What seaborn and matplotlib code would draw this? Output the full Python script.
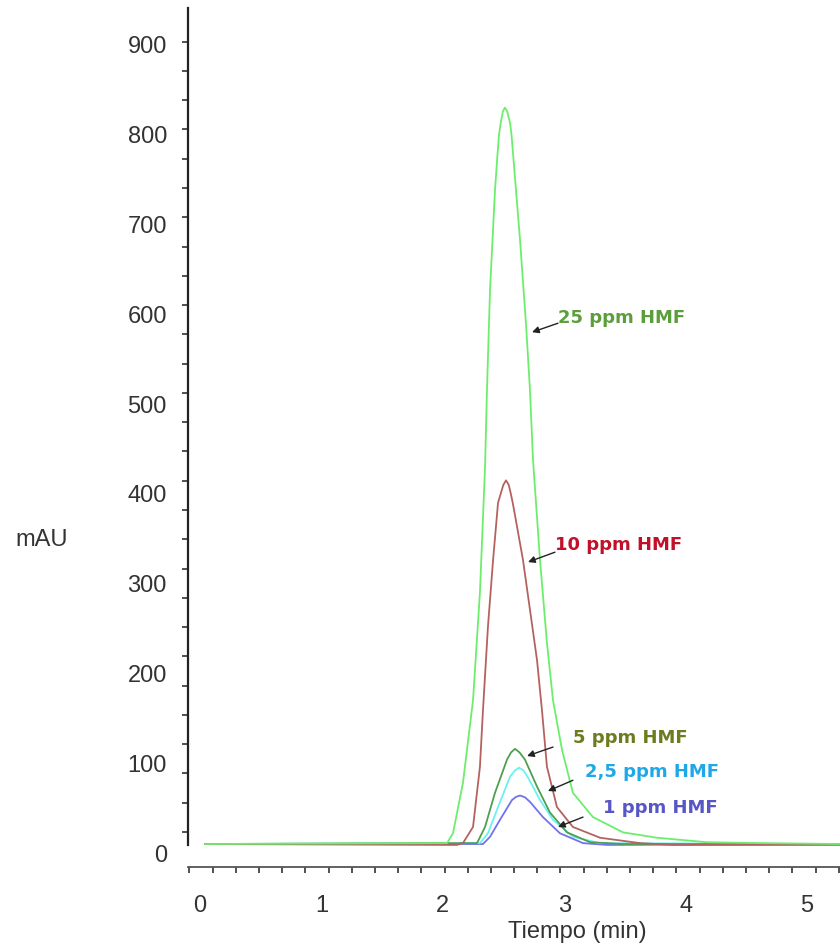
import numpy as np
import pandas as pd
import matplotlib
matplotlib.use("Agg")
import matplotlib.pyplot as plt
import seaborn as sns

# chromatogram traces (time in min, signal in mAU)
t_25 = [0.04, 2.035, 2.084, 2.166, 2.249, 2.306, 2.348, 2.364, 2.389, 2.430, 2.449, 2.463,
        2.477, 2.495, 2.512, 2.530, 2.554, 2.566, 2.581, 2.636, 2.685, 2.718, 2.743, 2.801,
        2.858, 2.908, 2.982, 3.072, 3.237, 3.484, 3.764, 4.176, 4.613, 5.272]
v_25 = [10, 11, 22, 78, 170, 290, 430, 516, 627, 738, 775, 800,
        813, 826, 830, 826, 813, 800, 775, 683, 590, 516, 438, 326,
        234, 170, 115, 67, 40, 23, 17, 12, 11, 10]

t_10 = [0.04, 2.117, 2.166, 2.249, 2.306, 2.331, 2.372, 2.414, 2.455, 2.479, 2.499, 2.521,
        2.543, 2.559, 2.576, 2.595, 2.661, 2.718, 2.776, 2.817, 2.858, 2.941, 3.072, 3.295,
        3.624, 3.896, 5.272]
v_10 = [10, 9, 11, 29, 96, 159, 252, 326, 390, 401, 410, 415,
        410, 401, 390, 376, 326, 271, 215, 159, 96, 51, 29, 17,
        11, 9, 9]

t_5 = [0.04, 2.282, 2.348, 2.430, 2.529, 2.562, 2.595, 2.632, 2.677, 2.776, 2.883, 3.023,
       3.213, 3.484, 5.272]
v_5 = [10, 11, 29, 67, 104, 112, 116, 112, 104, 74, 45, 23, 12, 10, 10]

t_2_5 = [0.04, 2.306, 2.372, 2.455, 2.554, 2.595, 2.628, 2.665, 2.702, 2.801, 2.908, 3.072,
         3.295, 5.272]
v_2_5 = [10, 11, 22, 51, 85, 92, 95, 92, 84, 59, 37, 18, 11, 10]

t_1 = [0.04, 2.331, 2.389, 2.471, 2.570, 2.603, 2.636, 2.677, 2.718, 2.825, 2.965, 3.155,
       3.353, 5.272]
v_1 = [10, 10, 18, 37, 59, 62.5, 64, 62, 57, 40, 22, 11, 9, 10]

labels = ["1 ppm HMF", "2,5 ppm HMF", "5 ppm HMF", "10 ppm HMF", "25 ppm HMF"]
line_colors = ["#7272ee", "#6cf0f0", "#4f9f4f", "#b5625f", "#6cee6c"]
text_colors = ["#5656c4", "#1fa8e8", "#6b7d1f", "#c0102a", "#5c9e3c"]

# label anchor, arrow tail, arrow tip (data coords)
text_pos = [(3.320, 50), (3.171, 90), (3.072, 128), (2.924, 343), (2.949, 596)]
arrow_tail = [(3.155, 40), (3.072, 81), (2.908, 118), (2.924, 335), (2.949, 590)]
arrow_tip = [(2.949, 29), (2.866, 69), (2.694, 108), (2.702, 324), (2.735, 580)]

sns.set_style("white")
plt.rcParams["font.family"] = ["Liberation Sans", "DejaVu Sans"]

fig = plt.figure(figsize=(8.4, 9.46), dpi=100)
ax = fig.add_axes([0.2235, 0.0835, 0.7765, 0.908])

traces = [(t_1, v_1), (t_2_5, v_2_5), (t_5, v_5), (t_10, v_10), (t_25, v_25)]
for (tt, vv), c in zip(traces, line_colors):
    df = pd.DataFrame({"t": tt, "v": vv})
    sns.lineplot(data=df, x="t", y="v", color=c, lw=1.3, sort=False,
                 estimator=None, ax=ax)

for lab, tc, tp, tail, tip in zip(labels, text_colors, text_pos, arrow_tail, arrow_tip):
    ax.text(tp[0], tp[1], lab, color=tc, fontsize=13, fontweight="bold",
            family="DejaVu Sans", ha="left", va="center")
    ax.annotate("", xy=tip, xytext=tail,
                arrowprops=dict(arrowstyle="-|>", color="#222222", lw=1.0,
                                mutation_scale=10, shrinkA=0, shrinkB=0))

ax.set_xlim(-0.101, 5.272)
ax.set_ylim(-15.6, 941)

# axis frame
for s in ["top", "right"]:
    ax.spines[s].set_visible(False)
ax.spines["left"].set_bounds(9, 941)
ax.spines["left"].set_color("#222222")
ax.spines["bottom"].set_color("#555555")
ax.spines["left"].set_linewidth(1.6)
ax.spines["bottom"].set_linewidth(1.3)

# labels sit apart from the tick marks, like in the original export
ax.set_xticks(range(0, 6))
ax.set_yticks(range(0, 1000, 100))
ax.set_xticks(np.arange(29) * 0.1911 - 0.088, minor=True)
ax.set_yticks(23.4 + np.arange(28) * 32.6, minor=True)
ax.tick_params(axis="both", which="both", bottom=True, left=True)
ax.tick_params(axis="both", which="major", length=0, labelsize=17, colors="#333333")
ax.tick_params(axis="x", which="major", pad=20)
ax.tick_params(axis="y", which="major", pad=15)
ax.tick_params(axis="both", which="minor", length=4, width=1.2, direction="out",
               color="#333333")

ax.set_xlabel("Tiempo (min)", fontsize=17, color="#333333")
ax.xaxis.set_label_coords(0.598, -0.0757)
ax.xaxis.label.set_va("center")
ax.set_ylabel("mAU", fontsize=17, color="#333333", rotation=0)
ax.yaxis.set_label_coords(-0.2234, 0.3807)
ax.yaxis.label.set_va("center")

fig.savefig("out.png", dpi=100)
